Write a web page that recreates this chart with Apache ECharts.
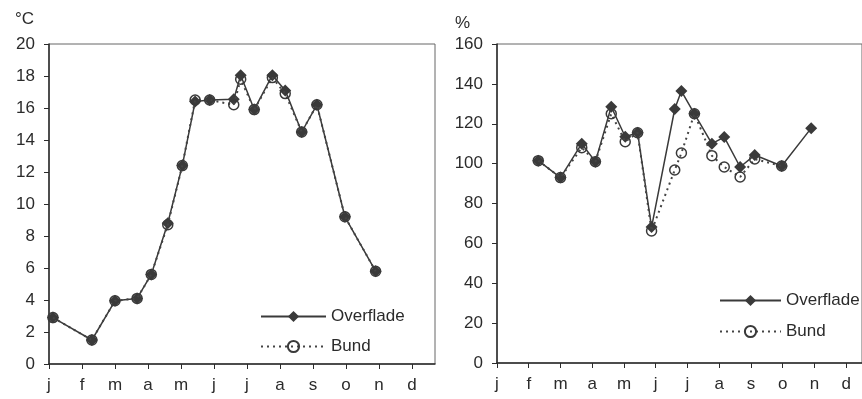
<!DOCTYPE html>
<html>
<head>
<meta charset="utf-8">
<script src="https://cdn.jsdelivr.net/npm/echarts@6/dist/echarts.min.js"></script>
<style>
html,body{margin:0;padding:0;background:#fff;}
#c{width:862px;height:399px;}
</style>
</head>
<body>
<div id="c"></div>
<script>
// Month tick labels
var monthLabels = ['j','f','m','a','m','j','j','a','s','o','n','d'];
// Sampling dates, in months from 1 Jan (0 = j tick)
var dates = [0.12, 1.3, 2.0, 2.67, 3.1, 3.6, 4.04, 4.43, 4.87, 5.6, 5.81, 6.22, 6.77, 7.16, 7.66, 8.12, 8.97, 9.9];
// Temperature (°C)
var tempOverflade = [2.9, 1.5, 3.95, 4.1, 5.6, 8.8, 12.4, 16.4, 16.5, 16.55, 18.05, 15.9, 18.05, 17.1, 14.5, 16.2, 9.2, 5.8];
var tempBund      = [2.9, 1.5, 3.95, 4.1, 5.6, 8.7, 12.4, 16.5, 16.5, 16.2, 17.8, 15.9, 17.9, 16.9, 14.5, 16.2, 9.2, 5.8];
// Oxygen saturation (%)
var pctOverflade = [null, 101.5, 93, 110, 101, 128.5, 113.5, 115.5, 68.2, 127.4, 136.4, 125, 110, 113.3, 98.3, 104.3, 98.8, 117.8];
var pctBund      = [null, 101.5, 93, 108, 101, 125, 111, 115.5, 66.2, 96.8, 105.3, 125, 104, 98.3, 93.3, 102.3, 98.8, null];

function pairs(vals){
  var out = [];
  for (var i = 0; i < dates.length; i++) {
    if (vals[i] !== null) out.push([dates[i], vals[i]]);
  }
  return out;
}

var FONT = 'Liberation Sans, Arial, sans-serif';
var INK = '#2b2b2b';

function xAxisCfg(gi, maxV){
  return {
    type: 'value', gridIndex: gi, min: 0, max: maxV, interval: 1,
    axisLine: {show: true, lineStyle: {color: INK, width: 1.5}},
    axisTick: {show: true, length: 5, inside: false, lineStyle: {color: INK}},
    axisLabel: {
      margin: 13, fontSize: 17, color: INK, fontFamily: FONT,
      showMaxLabel: false,
      formatter: function(v){ var k = Math.round(v); return (Math.abs(v-k) < 1e-6 && k < 12) ? monthLabels[k] : ''; }
    },
    splitLine: {show: false}
  };
}
function yAxisCfg(gi, maxV, step){
  return {
    type: 'value', gridIndex: gi, min: 0, max: maxV, interval: step,
    axisLine: {show: true, lineStyle: {color: INK, width: 1.5}},
    axisTick: {show: true, length: 5, lineStyle: {color: INK}},
    axisLabel: {margin: 14, fontSize: 17, color: INK, fontFamily: FONT},
    splitLine: {show: false}
  };
}

function overSeries(name, xi, data){
  return {
    name: name, type: 'line', xAxisIndex: xi, yAxisIndex: xi, data: data,
    symbol: 'diamond', symbolSize: 12, z: 3,
    lineStyle: {color: '#3a3a3a', width: 1.5, type: 'solid'},
    itemStyle: {color: '#3a3a3a'},
    animation: false
  };
}
function bundSeries(name, xi, data){
  return {
    name: name, type: 'line', xAxisIndex: xi, yAxisIndex: xi, data: data,
    symbol: 'circle', symbolSize: 10, z: 4,
    lineStyle: {color: '#444', width: 2, type: [2, 4]},
    itemStyle: {color: 'rgba(255,255,255,0)', borderColor: '#3a3a3a', borderWidth: 1.5},
    animation: false
  };
}

var chart = echarts.init(document.getElementById('c'));
chart.setOption({
  backgroundColor: '#fff',
  animation: false,
  title: [
    {text: '°C', left: 10, top: 6, textStyle: {fontSize: 17, fontWeight: 'normal', color: INK, fontFamily: FONT}},
    {text: '%', left: 450, top: 10, textStyle: {fontSize: 17, fontWeight: 'normal', color: INK, fontFamily: FONT}}
  ],
  grid: [
    {left: 49, top: 44, right: 427, bottom: 35, show: true, borderColor: '#666', borderWidth: 1},
    {left: 497, top: 44, right: -3, bottom: 36, show: true, borderColor: '#666', borderWidth: 1}
  ],
  xAxis: [xAxisCfg(0, 11.7), xAxisCfg(1, 11.5)],
  yAxis: [yAxisCfg(0, 20, 2), yAxisCfg(1, 160, 20)],
  legend: [
    {
      left: 255, top: 303, orient: 'vertical', itemWidth: 65, itemHeight: 14, itemGap: 13,
      textStyle: {fontSize: 17, color: INK, fontFamily: FONT},
      data: ['Overflade', 'Bund']
    },
    {
      left: 714, top: 287, orient: 'vertical', itemWidth: 61, itemHeight: 14, itemGap: 14,
      textStyle: {fontSize: 17, color: INK, fontFamily: FONT},
      data: ['Overflade', 'Bund']
    }
  ],
  series: [
    overSeries('Overflade', 0, pairs(tempOverflade)),
    bundSeries('Bund', 0, pairs(tempBund)),
    overSeries('Overflade', 1, pairs(pctOverflade)),
    bundSeries('Bund', 1, pairs(pctBund))
  ]
});
</script>
</body>
</html>
